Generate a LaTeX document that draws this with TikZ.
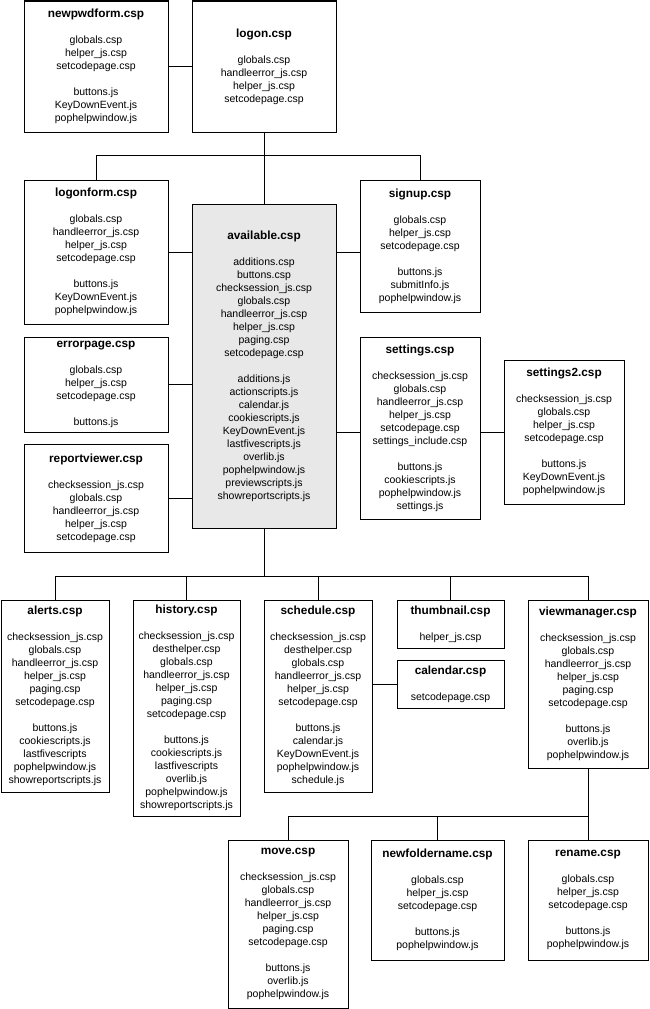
\documentclass[tikz,border=0pt]{standalone}
\usepackage{fontspec}
\setmainfont{Liberation Sans}
\usepackage{xcolor}
\usepackage{tikz}
\usetikzlibrary{positioning,calc}
\definecolor{mainfill}{RGB}{232,232,232}
\newcommand{\ttl}[1]{{\fontsize{11.8}{13}\selectfont\bfseries #1}}

\begin{document}
\begin{tikzpicture}[
  x=1pt, y=-1pt,
  filebox/.style={draw, line width=1pt, anchor=north west, align=center, inner sep=0pt, outer sep=0pt, font=\fontsize{10.5}{13}\selectfont},
  link/.style={line width=1pt},
]
  \useasboundingbox (0,0) rectangle (649,1009);

  \node[filebox, minimum width=144pt, minimum height=131pt] (newpwd) at (24,1) {\ttl{newpwdform.csp}\\[13pt] globals.csp\\ helper\_js.csp\\ setcodepage.csp\\[13pt] buttons.js\\ KeyDownEvent.js\\ pophelpwindow.js};
  \node[filebox, minimum width=144pt, minimum height=131pt] (logon) at (192,1) {\ttl{logon.csp}\\[13pt] globals.csp\\ handleerror\_js.csp\\ helper\_js.csp\\ setcodepage.csp};
  \node[filebox, minimum width=144pt, minimum height=144pt] (logonform) at (24,180) {\ttl{logonform.csp}\\[13pt] globals.csp\\ handleerror\_js.csp\\ helper\_js.csp\\ setcodepage.csp\\[13pt] buttons.js\\ KeyDownEvent.js\\ pophelpwindow.js};
  \node[filebox, fill=mainfill, minimum width=144pt, minimum height=324pt] (available) at (192,204) {\ttl{available.csp}\\[13pt] additions.csp\\ buttons.csp\\ checksession\_js.csp\\ globals.csp\\ handleerror\_js.csp\\ helper\_js.csp\\ paging.csp\\ setcodepage.csp\\[13pt] additions.js\\ actionscripts.js\\ calendar.js\\ cookiescripts.js\\ KeyDownEvent.js\\ lastfivescripts.js\\ overlib.js\\ pophelpwindow.js\\ previewscripts.js\\ showreportscripts.js};
  \node[filebox, minimum width=144pt, minimum height=95pt] (errorpage) at (24,337) {\ttl{errorpage.csp}\\[13pt] globals.csp\\ helper\_js.csp\\ setcodepage.csp\\[13pt] buttons.js};
  \node[filebox, minimum width=144pt, minimum height=108pt] (reportviewer) at (24,444) {\ttl{reportviewer.csp}\\[13pt] checksession\_js.csp\\ globals.csp\\ handleerror\_js.csp\\ helper\_js.csp\\ setcodepage.csp};
  \node[filebox, minimum width=120pt, minimum height=132pt] (signup) at (360,180) {\ttl{signup.csp}\\[13pt] globals.csp\\ helper\_js.csp\\ setcodepage.csp\\[13pt] buttons.js\\ submitInfo.js\\ pophelpwindow.js};
  \node[filebox, minimum width=120pt, minimum height=182pt] (settings) at (360,337) {\ttl{settings.csp}\\[13pt] checksession\_js.csp\\ globals.csp\\ handleerror\_js.csp\\ helper\_js.csp\\ setcodepage.csp\\ settings\_include.csp\\[13pt] buttons.js\\ cookiescripts.js\\ pophelpwindow.js\\ settings.js};
  \node[filebox, minimum width=120pt, minimum height=144pt] (settings2) at (504,360) {\ttl{settings2.csp}\\[13pt] checksession\_js.csp\\ globals.csp\\ helper\_js.csp\\ setcodepage.csp\\[13pt] buttons.js\\ KeyDownEvent.js\\ pophelpwindow.js};

  \node[filebox, minimum width=108pt, minimum height=192pt] (alerts) at (1,600) {\ttl{alerts.csp}\\[13pt] checksession\_js.csp\\ globals.csp\\ handleerror\_js.csp\\ helper\_js.csp\\ paging.csp\\ setcodepage.csp\\[13pt] buttons.js\\ cookiescripts.js\\ lastfivescripts\\ pophelpwindow.js\\ showreportscripts.js};
  \node[filebox, minimum width=107pt, minimum height=216pt] (history) at (133,600) {\ttl{history.csp}\\[13pt] checksession\_js.csp\\ desthelper.csp\\ globals.csp\\ handleerror\_js.csp\\ helper\_js.csp\\ paging.csp\\ setcodepage.csp\\[13pt] buttons.js\\ cookiescripts.js\\ lastfivescripts\\ overlib.js\\ pophelpwindow.js\\ showreportscripts.js};
  \node[filebox, minimum width=108pt, minimum height=192pt] (schedule) at (264,600) {\ttl{schedule.csp}\\[13pt] checksession\_js.csp\\ desthelper.csp\\ globals.csp\\ handleerror\_js.csp\\ helper\_js.csp\\ setcodepage.csp\\[13pt] buttons.js\\ calendar.js\\ KeyDownEvent.js\\ pophelpwindow.js\\ schedule.js};
  \node[filebox, minimum width=107pt, minimum height=48pt] (thumbnail) at (397,600) {\ttl{thumbnail.csp}\\[13pt] helper\_js.csp};
  \node[filebox, minimum width=107pt, minimum height=48pt] (calendar) at (397,660) {\ttl{calendar.csp}\\[13pt] setcodepage.csp};
  \node[filebox, minimum width=120pt, minimum height=168pt] (viewmanager) at (528,600) {\ttl{viewmanager.csp}\\[13pt] checksession\_js.csp\\ globals.csp\\ handleerror\_js.csp\\ helper\_js.csp\\ paging.csp\\ setcodepage.csp\\[13pt] buttons.js\\ overlib.js\\ pophelpwindow.js};

  \node[filebox, minimum width=120pt, minimum height=168pt] (move) at (228,840) {\ttl{move.csp}\\[13pt] checksession\_js.csp\\ globals.csp\\ handleerror\_js.csp\\ helper\_js.csp\\ paging.csp\\ setcodepage.csp\\[13pt] buttons.js\\ overlib.js\\ pophelpwindow.js};
  \node[filebox, minimum width=133pt, minimum height=120pt] (newfolder) at (371,840) {\ttl{newfoldername.csp}\\[13pt] globals.csp\\ helper\_js.csp\\ setcodepage.csp\\[13pt] buttons.js\\ pophelpwindow.js};
  \node[filebox, minimum width=120pt, minimum height=120pt] (rename) at (528,840) {\ttl{rename.csp}\\[13pt] globals.csp\\ helper\_js.csp\\ setcodepage.csp\\[13pt] buttons.js\\ pophelpwindow.js};

  \draw[link] (newpwd.east) -- (logon.west);
  \draw[link] (logon.south) -- (available.north);
  \draw[link] (logonform.north) -- ++(0,-25) -| (signup.north);
  \draw[link] (logonform.east) -- (logonform.east -| available.west);
  \draw[link] (errorpage.east) -- (errorpage.east -| available.west);
  \draw[link] (reportviewer.east) -- (reportviewer.east -| available.west);
  \draw[link] (logonform.east -| available.east) -- (logonform.east -| signup.west);
  \draw[link] (settings2.west -| available.east) -- (settings2.west -| settings.west);
  \draw[link] (settings2.west -| settings.east) -- (settings2.west);

  \draw[link] (available.south) -- ++(0,48);
  \draw[link] (alerts.north) -- ++(0,-24) -| (viewmanager.north);
  \foreach \n in {history,schedule,thumbnail}
    \draw[link] (\n.north) -- ++(0,-24);
  \draw[link] (schedule.east |- calendar.west) -- (calendar.west);

  \draw[link] (move.north) -- ++(0,-24) -| (viewmanager.south);
  \draw[link] (newfolder.north) -- ++(0,-24);
  \draw[link] (rename.north) -- ++(0,-24);
\end{tikzpicture}
\end{document}
